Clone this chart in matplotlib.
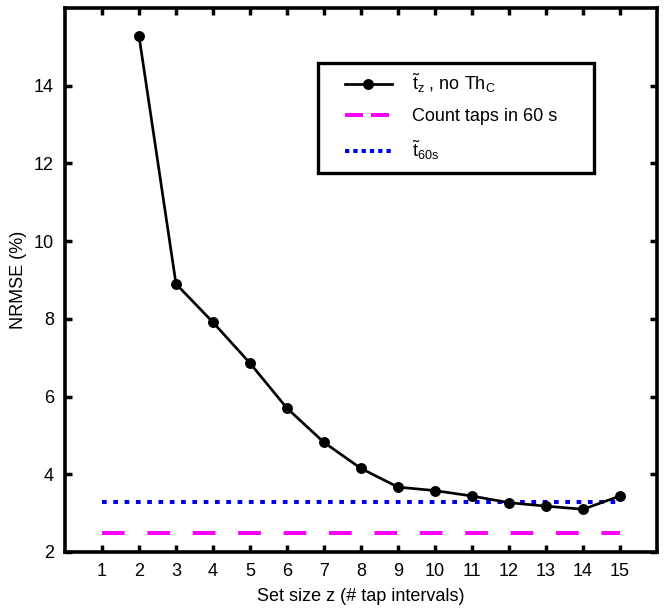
import matplotlib
matplotlib.use("Agg")
import matplotlib.pyplot as plt
from matplotlib.lines import Line2D
from matplotlib.patches import Rectangle
import numpy as np

plt.rcParams['font.family'] = ['Liberation Sans', 'DejaVu Sans']
plt.rcParams['mathtext.fontset'] = 'custom'
plt.rcParams['mathtext.rm'] = 'Liberation Sans'
plt.rcParams['mathtext.it'] = 'Liberation Sans'
plt.rcParams['mathtext.bf'] = 'Liberation Sans:bold'

# Data
set_size = [2, 3, 4, 5, 6, 7, 8, 9, 10, 11, 12, 13, 14, 15]
nrmse_tz = [15.28, 8.90, 7.91, 6.86, 5.70, 4.82, 4.15, 3.67, 3.58, 3.44, 3.27, 3.18, 3.10, 3.44]
count_taps_60s = 2.49
t60s = 3.29
line_x = [1, 15]
xticks = list(range(1, 16))
yticks = [2, 4, 6, 8, 10, 12, 14]
labels = [r'$\tilde{\mathrm{t}}_{\mathrm{z}}$ , no Th$_{\mathrm{C}}$',
          'Count taps in 60 s',
          r'$\tilde{\mathrm{t}}_{\mathrm{60s}}$']

W, H = 664, 609
fig = plt.figure(figsize=(W / 100, H / 100), dpi=100)
ax = fig.add_axes([65 / W, 1 - 552 / H, (657 - 65) / W, (552 - 8) / H])

px = 0.72
ax.plot(set_size, nrmse_tz, color='black', lw=2.7 * px, marker='o', ms=9.5 * px, zorder=3)
ax.plot(line_x, [count_taps_60s] * 2, color='#ff00ff', lw=4 * px,
        dashes=(22.7 / 4, 22.7 / 4), zorder=2)
ax.plot(line_x, [t60s] * 2, color='#0000ee', lw=4 * px,
        dashes=(4.7 / 4, 6.6 / 4), zorder=2)

ax.set_xlim(0, 16)
ax.set_ylim(2, 16)
ax.set_xticks(xticks)
ax.set_yticks(yticks)
ax.tick_params(direction='in', length=5, width=2.5, top=True, right=True,
               labelsize=13, pad=8)
ax.tick_params(axis='x', labeltop=False)
ax.tick_params(axis='y', labelright=False)
for s in ax.spines.values():
    s.set_linewidth(2.6)

ax.set_xlabel('Set size z (# tap intervals)', fontsize=13, labelpad=6)
ax.set_ylabel('NRMSE (%)', fontsize=13, labelpad=5)

handles = [
    Line2D([], [], color='black', lw=2.7 * px, marker='o', ms=9.5 * px),
    Line2D([], [], color='#ff00ff', lw=4 * px, dashes=(18 / 4, 8 / 4)),
    Line2D([], [], color='#0000ee', lw=4 * px, dashes=(4.3 / 4, 4.0 / 4)),
]
leg = ax.legend(handles, labels, loc='upper left',
                bbox_to_anchor=(345 / W, 1 - 72 / H),
                bbox_transform=fig.transFigure, borderaxespad=0, borderpad=0,
                frameon=False, fontsize=13,
                handlelength=2.6, handletextpad=1.1, labelspacing=0.72)

# legend frame
fig.patches.append(Rectangle((318 / W, 1 - 173 / H), (594 - 318) / W, (173 - 63) / H,
                             transform=fig.transFigure, fill=True, facecolor='white',
                             edgecolor='black', lw=2.4, zorder=0))
leg.set_zorder(5)
ax.set_zorder(1)
ax.patch.set_alpha(0)

fig.savefig('out.png', dpi=100)
